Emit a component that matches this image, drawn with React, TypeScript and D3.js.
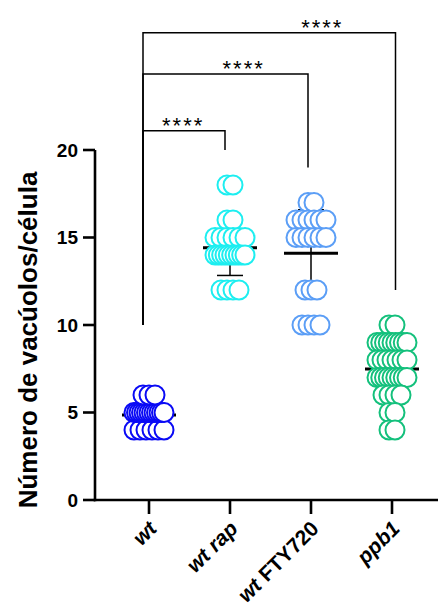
import React from "react";
import * as d3 from "d3";

// groups on the x axis
const groups = ["wt", "wt rap", "wt FTY720", "ppb1"];
const groupColors = ["#0A0AF5", "#1DEEF0", "#5B9EF6", "#14C07C"];
const italicWords = ["wt", "rap", "ppb1"];

// vacuoles per cell, one entry per cell
const wtValues = [4, 4, 4, 4, 4, 4, 5, 5, 5, 5, 5, 5, 5, 5, 5, 5, 5, 5, 5, 6, 6, 6];
const wtRapValues = [18, 18, 16, 16, 15, 15, 15, 15, 15, 15, 14, 14, 14, 14, 14, 14, 14, 14, 14, 14, 12, 12, 12, 12];
const wtFtyValues = [17, 17, 16, 16, 16, 16, 16, 16, 15, 15, 15, 15, 15, 15, 12, 12, 12, 10, 10, 10, 10];
const ppb1Values = [10, 10, 9, 9, 9, 9, 9, 9, 9, 9, 9, 8, 8, 8, 8, 8, 8, 8, 7, 7, 7, 7, 7, 7, 7, 7, 7, 6, 6, 6, 6, 5, 5, 4, 4];
const groupValues = [wtValues, wtRapValues, wtFtyValues, ppb1Values];

const yTicks = [0, 5, 10, 15, 20];

// multiple comparisons vs wt
const comparisons = [
  { from: "wt", to: "wt rap", label: "****", level: 21.1, labelAt: 0.49, endShift: -5 },
  { from: "wt", to: "wt FTY720", label: "****", level: 24.35, labelAt: 0.61, endShift: -3 },
  { from: "wt", to: "ppb1", label: "****", level: 26.7, labelAt: 0.71, endShift: 3.5 },
];

const W = 439;
const H = 607;
const FONT = "'Liberation Sans', Arial, sans-serif";

export default function App() {
  const y = d3.scaleLinear().domain([0, 20]).range([500, 150]);
  const x = d3.scalePoint<string>().domain(groups).range([149, 392]);
  const axisX0 = 95;
  const axisX1 = 438;
  const r = 9.5;

  // spread points of equal value horizontally, like a scatter dot plot
  const layout = (vals: number[]) => {
    const rows = d3.group(vals, (v) => v);
    const pts: { v: number; dx: number }[] = [];
    for (const [v, arr] of rows) {
      const n = arr.length;
      const sp = n > 1 ? Math.min(6, 30 / (n - 1)) : 0;
      arr.forEach((_, i) => pts.push({ v, dx: (i - (n - 1) / 2) * sp }));
    }
    return pts;
  };

  const maxOf = (g: string) => d3.max(groupValues[groups.indexOf(g)]) as number;

  return (
    <svg width={W} height={H} style={{ position: "absolute", left: 0, top: 0 }} fontFamily={FONT}>
      {/* mean and SD */}
      {groups.map((g, gi) => {
        const vals = groupValues[gi];
        const m = d3.mean(vals) as number;
        const sd = d3.deviation(vals) as number;
        const cx = x(g) as number;
        return (
          <g key={"e" + g}>
            <line x1={cx} x2={cx} y1={y(m - sd)} y2={y(m + sd)} stroke="#000" strokeWidth={1.5} />
            <line x1={cx - 13} x2={cx + 13} y1={y(m - sd)} y2={y(m - sd)} stroke="#000" strokeWidth={1.5} />
            <line x1={cx - 13} x2={cx + 13} y1={y(m + sd)} y2={y(m + sd)} stroke="#000" strokeWidth={1.5} />
            <line x1={cx - 27} x2={cx + 27} y1={y(m)} y2={y(m)} stroke="#000" strokeWidth={3} />
          </g>
        );
      })}

      {/* points */}
      {groups.map((g, gi) => (
        <g key={"p" + g}>
          {layout(groupValues[gi]).map((p, i) => (
            <circle
              key={i}
              cx={(x(g) as number) + p.dx}
              cy={y(p.v)}
              r={r}
              fill="#fff"
              stroke={groupColors[gi]}
              strokeWidth={2}
            />
          ))}
        </g>
      ))}

      {/* y axis */}
      <line x1={axisX0} x2={axisX0} y1={y(20)} y2={y(0) + 1.3} stroke="#000" strokeWidth={2.6} />
      {yTicks.map((t) => (
        <g key={"yt" + t}>
          <line x1={axisX0 - 12} x2={axisX0} y1={y(t)} y2={y(t)} stroke="#000" strokeWidth={2.6} />
          <text x={axisX0 - 17} y={y(t)} dy="0.36em" textAnchor="end" fontSize={19} fontWeight="bold">
            {t}
          </text>
        </g>
      ))}
      <text
        transform={`translate(37,${340}) rotate(-90)`}
        textAnchor="middle"
        fontSize={26}
        fontWeight="bold"
      >
        Número de vacúolos/célula
      </text>

      {/* x axis */}
      <line x1={axisX0 - 1.3} x2={axisX1} y1={y(0)} y2={y(0)} stroke="#000" strokeWidth={2.6} />
      {groups.map((g) => {
        const cx = x(g) as number;
        return (
          <g key={"xt" + g}>
            <line x1={cx} x2={cx} y1={y(0)} y2={y(0) + 14} stroke="#000" strokeWidth={2.6} />
            <text
              transform={`translate(${cx + 9},${y(0) + 30}) rotate(-45)`}
              textAnchor="end"
              fontSize={21}
              fontWeight="bold"
            >
              {g.split(" ").map((w, i) => (
                <tspan key={i} fontStyle={italicWords.includes(w) ? "italic" : "normal"}>
                  {(i > 0 ? " " : "") + w}
                </tspan>
              ))}
            </text>
          </g>
        );
      })}

      {/* significance brackets */}
      {comparisons.map((c) => {
        const x1b = (x(c.from) as number) - 6;
        const x2b = (x(c.to) as number) + c.endShift;
        const yl = y(c.level);
        const yLeft = y(maxOf(c.from) + 4);
        const yRight = y(maxOf(c.to) + 2);
        return (
          <g key={"b" + c.to}>
            <path
              d={`M${x1b},${yLeft}V${yl}H${x2b}V${yRight}`}
              fill="none"
              stroke="#000"
              strokeWidth={1.5}
            />
            <text
              x={x1b + (x2b - x1b) * c.labelAt}
              y={yl + 2}
              textAnchor="middle"
              fontSize={22}
              letterSpacing={2}
            >
              {c.label}
            </text>
          </g>
        );
      })}
    </svg>
  );
}
